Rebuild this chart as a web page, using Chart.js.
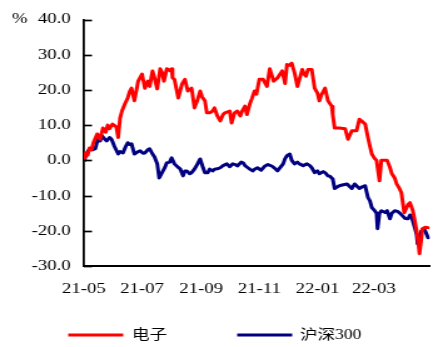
<!DOCTYPE html>
<html>
<head>
<meta charset="utf-8">
<script src="https://cdn.jsdelivr.net/npm/chart.js@4/dist/chart.umd.min.js"></script>
<style>
  html, body { margin: 0; padding: 0; background: #fff; overflow: hidden; }
  /* the chart is drawn narrow and widened, giving the broad lettering of the original figure */
  #c { display: block; transform: scaleX(1.2514); transform-origin: 0 0; }
</style>
</head>
<body>
<canvas id="c" width="350" height="347"></canvas>
<script>
// Cumulative return (%) since 2021-05-01; x = days after 2021-05-01
const seriesNames = ['电子', '沪深300'];
const monthTickDays = [0, 61, 123, 184, 245, 304];
const monthTickLabels = ['21-05', '21-07', '21-09', '21-11', '22-01', '22-03'];
const yMin = -30, yMax = 40, yStep = 10;

const elecDays = [0, 2, 4, 6, 8, 10, 14, 17, 20, 23, 25, 27, 30, 34, 36, 38, 40, 43, 46, 48,
  50, 53, 57, 61, 64, 67, 69, 72, 74, 77, 80, 82, 84, 87, 90, 92, 93, 95, 99, 103,
  106, 109, 113, 116, 119, 122, 124, 127, 129, 132, 135, 137, 140, 143, 146, 148, 151, 153, 155, 158,
  161, 164, 166, 169, 171, 174, 176, 179, 181, 184, 188, 192, 195, 199, 203, 208, 211, 213, 216, 218,
  221, 224, 229, 231, 233, 235, 239, 242, 245, 247, 249, 253, 256, 260, 261, 263, 268, 274, 277, 281,
  286, 289, 292, 295, 298, 300, 302, 305, 307, 310, 312, 318, 321, 323, 326, 328, 331, 333, 336, 340,
  342, 345, 347, 349, 351, 352, 354, 355, 358, 361];
const elecVals = [0, 2, 1.5, 3.5, 3, 5, 7.5, 6, 9.2, 8, 10, 9, 10.3, 9.5, 6.5, 12, 14, 16, 17.7, 19.5,
  20.5, 16.9, 22.5, 24.5, 20.5, 22.5, 21, 25.4, 23.5, 20.3, 26, 25, 22.5, 26, 25.5, 26, 23.4, 23, 17.7, 21.7,
  23, 19.7, 20.5, 14.9, 17, 19.7, 18, 16.9, 13.5, 13.5, 14, 14.9, 12.6, 11.2, 13, 13.5, 13.8, 14, 10.6, 13.5,
  14, 12.6, 14, 15.4, 13, 16, 17.4, 19.7, 18.8, 23, 23, 21, 26, 22.5, 23.4, 25.4, 21.8, 27.2, 27, 27.6,
  24.8, 21, 25.8, 24.5, 23.9, 25.8, 25.8, 20.5, 19.1, 16.9, 18.5, 20.5, 16.9, 15.4, 13, 9.2, 9.2, 9, 6, 8.4,
  8.4, 11.7, 11, 10.3, 6.4, 4, 1.8, 0.5, 0, -5.8, 0, 0, -2, -3.8, -5, -6.7, -8, -9.2, -14.9, -12.5,
  -12, -14.3, -17, -20, -24, -26.5, -22, -19.4, -19, -19.1];

const hs300Days = [0, 1, 3, 6, 9, 12, 15, 17, 19, 22, 24, 27, 29, 32, 36, 38, 41, 44, 46, 48,
  50, 53, 57, 59, 62, 64, 67, 69, 72, 74, 77, 79, 81, 83, 85, 87, 90, 92, 95, 99,
  101, 104, 106, 108, 111, 113, 116, 118, 122, 125, 127, 130, 132, 135, 137, 140, 143, 146, 150, 153,
  156, 159, 161, 165, 167, 169, 172, 174, 177, 179, 182, 186, 190, 193, 197, 200, 203, 206, 209, 211,
  213, 216, 218, 221, 224, 226, 230, 234, 237, 239, 242, 245, 247, 251, 253, 256, 258, 261, 263, 266,
  268, 271, 276, 279, 281, 284, 287, 289, 292, 295, 298, 300, 302, 305, 307, 308, 310, 312, 316, 318,
  321, 323, 326, 329, 331, 334, 337, 340, 342, 344, 347, 349, 350, 352, 354, 357, 361];
const hs300Vals = [0, 0.4, 2, 3.3, 3, 3.3, 6.4, 5.5, 7, 6, 5.5, 6.5, 6, 4, 1.8, 2.5, 2.1, 4, 5, 4.5,
  4.7, 1.8, 2.5, 2.7, 2, 2.1, 3, 3.3, 1.8, 1, -1, -5, -4, -3, -2, -0.7, -0.5, 0.7, -1, -2,
  -2.4, -4.4, -3, -3, -3.8, -3.5, -2.5, -1.6, 0.4, -2.1, -3.5, -3.5, -2.5, -3, -2.5, -2.4, -2.1, -1.5, -1, -1.8,
  -1, -1.2, -1.6, -0.5, -0.7, -1.5, -2.1, -2.5, -3, -2.5, -2.1, -2.8, -1.6, -1.2, -1.6, -2.2, -3, -2, -1, 0.5,
  1.3, 1.8, 0, -1, -0.5, -1, -1.5, -1, -1.5, -2.1, -3.5, -3, -3.8, -3.2, -3.5, -4.4, -4.5, -5.3, -8, -7.5,
  -7.2, -7, -6.7, -7.5, -8, -6.7, -7.5, -8, -7.5, -7.2, -10.6, -11.5, -13.4, -14.3, -15, -19.4, -15, -14.3, -14.8, -14.3,
  -16.6, -15, -14.3, -14.5, -14.9, -15.7, -16.5, -16.6, -15.5, -16.3, -19.1, -21, -23.7, -22.5, -20, -19.4, -22];

const seriesColors = ['#ff0000', '#000080'];
const serifFont = '"Liberation Serif", "Times New Roman", "Noto Sans CJK SC", serif';

const toPoints = (xs, ys) => xs.map((x, i) => ({ x, y: ys[i] }));

// small tick marks pointing into the plot, the "%" unit and the line legend
const decorations = {
  id: 'decorations',
  afterDraw(chart) {
    const { ctx, scales: { x, y } } = chart;
    ctx.save();
    ctx.strokeStyle = '#000';
    ctx.lineWidth = 1.7;
    y.ticks.forEach(t => {
      const py = Math.round(y.getPixelForValue(t.value)) + 0.5;
      ctx.beginPath();
      ctx.moveTo(x.left, py);
      ctx.lineTo(x.left + 6.5, py);
      ctx.stroke();
    });

    ctx.fillStyle = '#000';
    ctx.font = '15px ' + serifFont;
    ctx.textAlign = 'left';
    ctx.textBaseline = 'middle';
    ctx.fillText('%', 9.5, y.getPixelForValue(yMax));

    const legendY = 335;
    const items = [{ box: 54.5, text: 105.5 }, { box: 189.5, text: 239.7 }];
    ctx.font = '14px ' + serifFont;
    chart.data.datasets.forEach((ds, i) => {
      const it = items[i];
      ctx.fillStyle = ds.borderColor;
      ctx.fillRect(it.box, legendY - 1.5, 44, 3);
      ctx.fillStyle = '#000';
      ctx.fillText(ds.label, it.text, legendY);
    });
    ctx.restore();
  }
};

new Chart(document.getElementById('c'), {
  type: 'line',
  data: {
    datasets: [
      { label: seriesNames[0], data: toPoints(elecDays, elecVals), borderColor: seriesColors[0] },
      { label: seriesNames[1], data: toPoints(hs300Days, hs300Vals), borderColor: seriesColors[1] }
    ]
  },
  options: {
    responsive: false,
    animation: false,
    devicePixelRatio: 1,
    layout: { padding: { left: 0, right: 6.4, top: 19, bottom: 51 } },
    elements: {
      line: { borderWidth: 3, tension: 0, borderJoinStyle: 'round', borderCapStyle: 'round' },
      point: { radius: 0, hoverRadius: 0 }
    },
    plugins: { legend: { display: false }, tooltip: { enabled: false } },
    scales: {
      x: {
        type: 'linear',
        min: monthTickDays[0],
        max: 363,
        grid: { display: true, drawOnChartArea: false, drawTicks: false },
        border: { display: true, color: '#000', width: 2 },
        afterBuildTicks: s => { s.ticks = monthTickDays.map(v => ({ value: v })); },
        afterFit: s => { s.height = 30; },
        ticks: {
          autoSkip: false,
          maxRotation: 0,
          padding: 14,
          color: '#000',
          font: { family: serifFont, size: 15 },
          callback: v => monthTickLabels[monthTickDays.indexOf(v)]
        }
      },
      y: {
        min: yMin,
        max: yMax,
        grid: { display: true, drawOnChartArea: false, drawTicks: false },
        border: { display: true, color: '#000', width: 1.8 },
        afterFit: s => { s.width = 67; },
        ticks: {
          stepSize: yStep,
          padding: 10.5,
          color: '#000',
          font: { family: serifFont, size: 15 },
          callback: v => v.toFixed(1)
        }
      }
    }
  },
  plugins: [decorations]
});
</script>
</body>
</html>
